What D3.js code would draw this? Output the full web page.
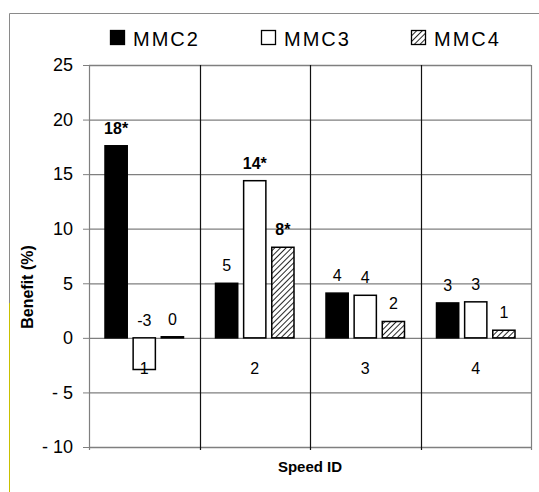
<!DOCTYPE html>
<html><head><meta charset="utf-8">
<script src="https://cdn.jsdelivr.net/npm/d3@7"></script>
<style>
html,body{margin:0;padding:0;background:#fff;}
svg{display:block;font-family:"Liberation Sans",Arial,sans-serif;}
</style></head>
<body><svg id="c" width="539" height="492"></svg>
<script>
const categories = ["1","2","3","4"];
const seriesNames = ["MMC2","MMC3","MMC4"];
const mmc2 = [17.6, 5.0, 4.1, 3.2];
const mmc3 = [-2.9, 14.4, 3.9, 3.3];
const mmc4 = [0.1, 8.3, 1.5, 0.7];
const mmc2Labels = ["18*","5","4","3"];
const mmc3Labels = ["-3","14*","4","3"];
const mmc4Labels = ["0","8*","2","1"];
const yTicks = [25,20,15,10,5,0,-5,-10];
const yTitle = "Benefit (%)";
const xTitle = "Speed ID";

const svg = d3.select("#c");
const L = 89, R = 531, T = 65, B = 447;

const defs = svg.append("defs");
const pat = defs.append("pattern").attr("id","hatch").attr("patternUnits","userSpaceOnUse")
  .attr("width",4).attr("height",4).attr("patternTransform","rotate(45)");
pat.append("rect").attr("width",4).attr("height",4).attr("fill","#fff");
pat.append("line").attr("x1",0).attr("y1",0).attr("x2",0).attr("y2",4).attr("stroke","#000").attr("stroke-width",1.7);

const fills = {MMC2:"#000", MMC3:"#fff", MMC4:"url(#hatch)"};

// frame
svg.append("line").attr("x1",9.5).attr("x2",539).attr("y1",13.5).attr("y2",13.5).attr("stroke","#8a8a8a").attr("stroke-width",1);
svg.append("line").attr("x1",9.5).attr("x2",9.5).attr("y1",13.5).attr("y2",303).attr("stroke","#8a8a8a").attr("stroke-width",1);
svg.append("line").attr("x1",9.5).attr("x2",9.5).attr("y1",303).attr("y2",492).attr("stroke","#c8c000").attr("stroke-width",1);

const y = d3.scaleLinear().domain([-10,25]).range([B,T]);
const x0 = d3.scaleBand().domain(categories).range([L,R]).paddingInner(0).paddingOuter(0);
const x1 = d3.scaleBand().domain(seriesNames).range([16, x0.bandwidth()-16]).paddingInner(0.21).paddingOuter(0);

// horizontal gridlines
const gGrid = svg.append("g").attr("transform",`translate(${L},0)`)
  .call(d3.axisLeft(y).tickValues(yTicks).tickSize(-(R-L)).tickFormat(""));
gGrid.select(".domain").remove();
gGrid.selectAll("line").attr("stroke","#7f7f7f").attr("stroke-width",1.3);

// vertical category lines
const bounds = categories.map(c => x0(c)).concat([R]);
svg.append("g").selectAll("line").data(bounds).join("line")
  .attr("x1",d=>Math.round(d)+0.5).attr("x2",d=>Math.round(d)+0.5)
  .attr("y1",T).attr("y2",B+3)
  .attr("stroke",(d,i)=> (i===0||i===bounds.length-1) ? "#7f7f7f" : "#111").attr("stroke-width",1.2);

// y axis
const gy = svg.append("g").attr("transform",`translate(${L},0)`)
  .call(d3.axisLeft(y).tickValues(yTicks).tickSize(6).tickPadding(10)
  .tickFormat(d => d < 0 ? "- " + Math.abs(d) : String(d)));
gy.select(".domain").attr("stroke","#7f7f7f");
gy.selectAll(".tick line").attr("stroke","#7f7f7f");
gy.selectAll("text").attr("font-size",18).attr("fill","#000").attr("font-family","Liberation Sans, Arial, sans-serif");

// x axis labels (category)
const gx = svg.append("g").attr("transform",`translate(0,${y(0)})`)
  .call(d3.axisBottom(x0).tickSize(0).tickPadding(25));
gx.select(".domain").remove();
gx.selectAll("text").attr("font-size",16).attr("fill","#000").attr("font-family","Liberation Sans, Arial, sans-serif");

// bars
const rows = categories.map((c,i)=>({cat:c, vals:[
  {s:"MMC2", v:mmc2[i], lab:mmc2Labels[i]},
  {s:"MMC3", v:mmc3[i], lab:mmc3Labels[i]},
  {s:"MMC4", v:mmc4[i], lab:mmc4Labels[i]}]}));
const grp = svg.append("g").selectAll("g").data(rows).join("g")
  .attr("transform", d=>`translate(${x0(d.cat)},0)`);
grp.selectAll("rect").data(d=>d.vals).join("rect")
  .attr("x", d=>x1(d.s)).attr("width", x1.bandwidth())
  .attr("y", d=>y(Math.max(0,d.v))).attr("height", d=>Math.abs(y(d.v)-y(0)))
  .attr("fill", d=>fills[d.s]).attr("stroke","#000").attr("stroke-width",1.5);
grp.selectAll("text").data(d=>d.vals).join("text")
  .attr("x", d=>x1(d.s)+x1.bandwidth()/2)
  .attr("y", d=>y(Math.max(0,d.v))-12)
  .attr("text-anchor","middle")
  .attr("font-size", 16)
  .attr("font-weight", d=>d.lab.includes("*")?"bold":"normal")
  .text(d=>d.lab);

// category label "1" drawn on top
gx.raise();

// titles
svg.append("text").attr("transform",`translate(33,${(y(-10)+y(25))/2+31}) rotate(-90)`)
  .attr("text-anchor","middle").attr("font-size",16).attr("font-weight","bold").text(yTitle);
svg.append("text").attr("x",(L+R)/2).attr("y",472).attr("text-anchor","middle")
  .attr("font-size",15).attr("font-weight","bold").text(xTitle);

// legend
const legX = [110, 261, 411];
const lg = svg.append("g").selectAll("g").data(seriesNames).join("g")
  .attr("transform",(d,i)=>`translate(${legX[i]},30)`);
lg.append("rect").attr("x",0.5).attr("y",0.5).attr("width",14).attr("height",14)
  .attr("fill",d=>fills[d]).attr("stroke","#000").attr("stroke-width",1.3);
lg.append("text").attr("x",23).attr("y",16).attr("font-size",20).attr("letter-spacing",2).text(d=>d);
</script></body></html>
